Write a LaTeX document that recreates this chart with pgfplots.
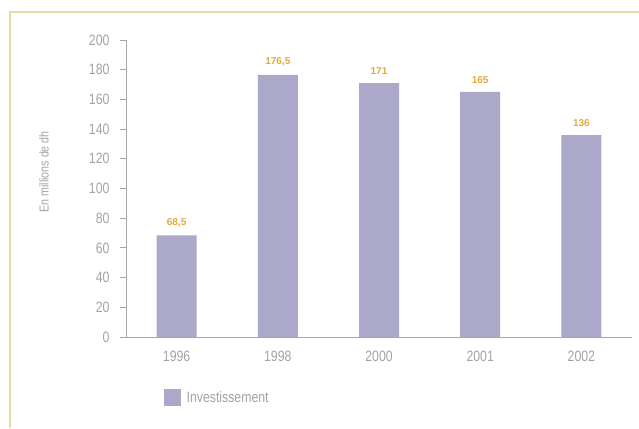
\documentclass[border=0pt]{standalone}
\usepackage{pgfplots}
\pgfplotsset{compat=1.18}
\usepackage{fontspec}
\setmainfont{Liberation Sans}
\newfontfamily\narrowfont[FakeStretch=0.82]{Liberation Sans}
\definecolor{barcol}{HTML}{ABA8C9}
\definecolor{valcol}{HTML}{E3A93A}
\definecolor{framecol}{HTML}{E7DBA3}
\definecolor{txtgrey}{HTML}{A3A3A3}
\definecolor{axgrey}{HTML}{A8A8A8}
\begin{document}
\begin{tikzpicture}[x=1pt,y=1pt]
\path[use as bounding box] (0,0) rectangle (639,428);
% thin golden frame on the top and left
\draw[framecol, line width=1.5pt] (10,0) -- (10,416) -- (639,416);
\begin{axis}[
  at={(126pt,91pt)}, anchor=south west,
  scale only axis, width=506pt, height=297pt,
  xmin=0, xmax=5, ymin=0, ymax=200,
  ybar, bar width=40pt,
  /pgf/number format/assume math mode=true,
  axis x line*=bottom, axis y line*=left,
  axis line style={axgrey, line width=0.8pt},
  x axis line style={shorten <=-6pt},
  ytick={0,20,...,200},
  tick style={axgrey, line width=0.8pt},
  major tick length=6pt,
  ytick align=outside,
  yticklabel style={font=\narrowfont\fontsize{15}{15}\selectfont, text=txtgrey, xshift=-7pt},
  xtick={0.5,1.5,2.5,3.5,4.5},
  xticklabels={1996,1998,2000,2001,2002},
  xtick style={draw=none},
  xticklabel style={font=\narrowfont\fontsize{15}{15}\selectfont, text=txtgrey, yshift=-4pt},
  extra x ticks={0,1,2,3,4,5},
  extra x tick labels={},
  extra x tick style={tick align=outside, tick style={axgrey, line width=0.8pt}, major tick length=6pt},
  ylabel={En millions de dh},
  ylabel style={at={(axis description cs:-0.162,0.556)}, anchor=center,
    font=\narrowfont\fontsize{13}{13}\selectfont, text=txtgrey},
  point meta=explicit symbolic,
  nodes near coords,
  nodes near coords style={font=\bfseries\fontsize{10}{10}\selectfont, text=valcol, yshift=5pt},
  legend style={at={(0.068,-0.205)}, anchor=west, draw=none, fill=none,
    font=\narrowfont\fontsize{15}{15}\selectfont, text=txtgrey,
    /tikz/every even column/.append style={column sep=0pt}},
  legend image code/.code={\fill[barcol] (0pt,-8.5pt) rectangle (17pt,8.5pt);},
  clip=false,
]
\addplot[fill=barcol, draw=none] coordinates {
  (0.5,68.5) [68,5]
  (1.5,176.5) [176,5]
  (2.5,171) [171]
  (3.5,165) [165]
  (4.5,136) [136]
};
\addlegendentry{\hspace{4pt}Investissement}
\end{axis}
\end{tikzpicture}
\end{document}
